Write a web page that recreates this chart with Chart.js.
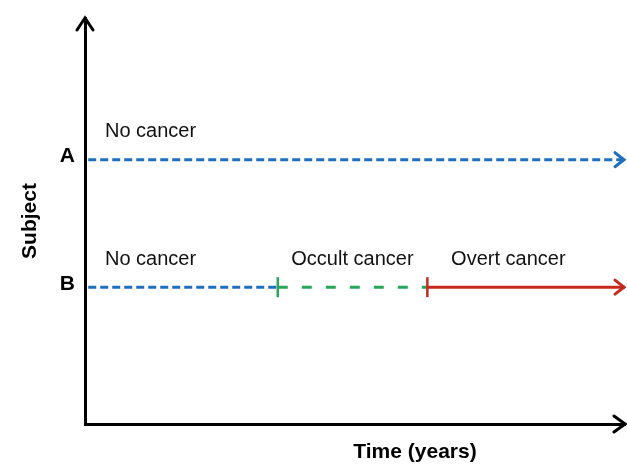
<!DOCTYPE html>
<html><head><meta charset="utf-8">
<script src="https://cdn.jsdelivr.net/npm/chart.js@4.4.1/dist/chart.umd.min.js"></script>
<style>html,body{margin:0;padding:0;background:#fff;overflow:hidden}#wrap{width:627px;height:464px;}</style>
</head><body><div id="wrap"><canvas id="c" width="627" height="464"></canvas></div>
<script>
// ---- data ----
const subjects = ['A', 'B'];
const subjectLevel = [65.1, 33.7];
const phaseNames = ['No cancer', 'No cancer', 'Occult cancer', 'Overt cancer'];
const phaseSubject = ['A', 'B', 'B', 'B'];
const phaseStart = [0.6, 0.6, 35.7, 63.4];
const phaseEnd = [100, 35.7, 63.4, 100];
const labelX = [3.7, 3.7, 38.2, 67.8];
const xTitle = 'Time (years)';
const yTitle = 'Subject';

// ---- styles ----
const FAM = '"Liberation Sans", Arial, Helvetica, sans-serif';
const phaseStyle = {
  'No cancer': { color: '#1f6fbd', dash: [8, 4] },
  'Occult cancer': { color: '#2aa65a', dash: [10, 14] },
  'Overt cancer': { color: '#c62a1f', dash: [] }
};

const datasets = phaseNames.map((name, i) => {
  const st = phaseStyle[name];
  const y = subjectLevel[subjects.indexOf(phaseSubject[i])];
  const hasStartMark = phaseSubject.indexOf(phaseSubject[i]) !== i;
  return {
    label: name,
    data: [{ x: phaseStart[i], y }, { x: phaseEnd[i], y }],
    borderColor: st.color,
    borderDash: st.dash,
    borderWidth: 3,
    borderCapStyle: 'butt',
    pointStyle: 'line',
    rotation: 90,
    pointRadius: [hasStartMark ? 10 : 0, 0],
    pointBorderColor: st.color,
    pointBorderWidth: 2.5,
    pointHoverRadius: 0,
    fill: false,
    tension: 0,
    order: phaseNames.length - 1 - i,
    clip: false
  };
});

const decor = {
  id: 'decor',
  afterDatasetsDraw(chart) {
    const { ctx, scales: { x, y } } = chart;
    ctx.save();
    phaseNames.forEach((name, i) => {
      const yy = y.getPixelForValue(subjectLevel[subjects.indexOf(phaseSubject[i])]);
      if (phaseEnd[i] >= x.max) {
        const tip = x.getPixelForValue(phaseEnd[i]) - 1;
        ctx.strokeStyle = phaseStyle[name].color;
        ctx.lineWidth = 3;
        ctx.setLineDash([]);
        ctx.lineCap = 'round';
        ctx.lineJoin = 'miter';
        ctx.beginPath();
        ctx.moveTo(tip - 9, yy - 7);
        ctx.lineTo(tip, yy);
        ctx.lineTo(tip - 9, yy + 7);
        ctx.stroke();
      }
      ctx.fillStyle = '#111';
      ctx.font = '20px ' + FAM;
      ctx.textAlign = 'left';
      ctx.textBaseline = 'middle';
      ctx.fillText(name, x.getPixelForValue(labelX[i]), yy - 28);
    });
    ctx.restore();
  },
  afterDraw(chart) {
    const { ctx, chartArea: ca } = chart;
    ctx.save();
    ctx.strokeStyle = '#000';
    ctx.lineWidth = 3;
    ctx.lineCap = 'round';
    ctx.lineJoin = 'miter';
    ctx.beginPath();
    ctx.moveTo(ca.left - 8, ca.top + 12);
    ctx.lineTo(ca.left, ca.top);
    ctx.lineTo(ca.left + 8, ca.top + 12);
    ctx.stroke();
    ctx.beginPath();
    ctx.moveTo(ca.right - 11, ca.bottom - 8);
    ctx.lineTo(ca.right, ca.bottom);
    ctx.lineTo(ca.right - 11, ca.bottom + 8);
    ctx.stroke();
    ctx.fillStyle = '#000';
    ctx.font = 'bold 21px ' + FAM;
    ctx.textAlign = 'center';
    ctx.textBaseline = 'middle';
    ctx.fillText(xTitle, 415, 452);
    ctx.restore();
  }
};

new Chart(document.getElementById('c'), {
  type: 'line',
  data: { datasets },
  plugins: [decor],
  options: {
    responsive: false,
    animation: false,
    events: [],
    layout: { autoPadding: false, padding: { top: 18, right: 2, left: 0, bottom: 0 } },
    plugins: { legend: { display: false }, tooltip: { enabled: false } },
    scales: {
      x: {
        type: 'linear', min: 0, max: 100,
        grid: { display: false, drawTicks: false },
        ticks: { display: false },
        border: { display: true, color: '#000', width: 3 },
        afterFit(s) { s.height = 40; s.paddingLeft = 0; s.paddingRight = 0; }
      },
      y: {
        type: 'linear', min: 0, max: 100,
        grid: { display: false, drawTicks: false },
        border: { display: true, color: '#000', width: 3 },
        afterBuildTicks(s) { s.ticks = subjectLevel.map(v => ({ value: v })); },
        ticks: {
          autoSkip: false,
          callback: (v, i) => subjects[i],
          font: { family: FAM, size: 21, weight: 'bold' },
          color: '#000',
          padding: 10,
          labelOffset: -3
        },
        title: {
          display: true, text: yTitle, color: '#000',
          font: { family: FAM, size: 21, weight: 'bold' },
          padding: { top: 18, bottom: 0 }
        },
        afterFit(s) { s.width = 85; s.paddingTop = 0; s.paddingBottom = 0; }
      }
    }
  }
});
</script>
</body></html>
